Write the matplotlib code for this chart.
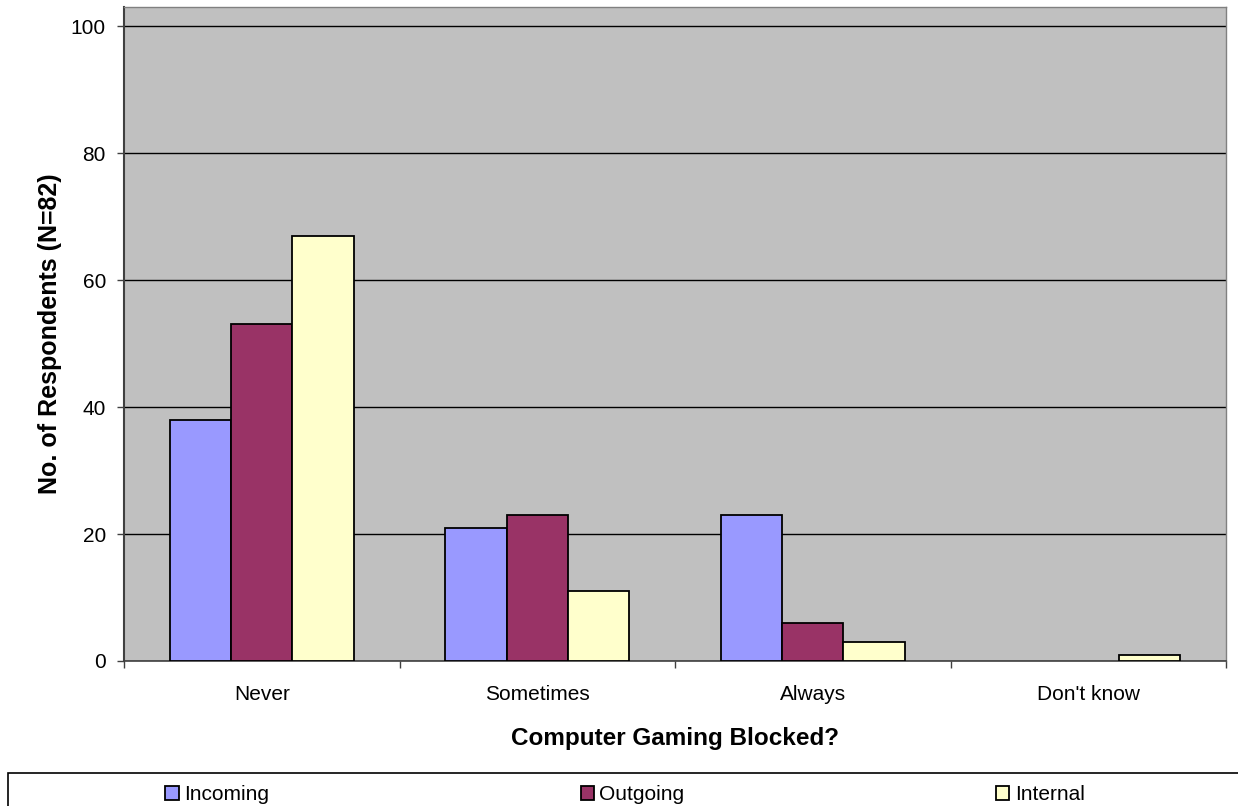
import numpy as np
import matplotlib
matplotlib.use("Agg")
from matplotlib import pyplot as plt
from matplotlib.patches import Rectangle

categories = ["Never", "Sometimes", "Always", "Don't know"]
series_names = ["Incoming", "Outgoing", "Internal"]
incoming = [38, 21, 23, 0]
outgoing = [53, 23, 6, 0]
internal = [67, 11, 3, 1]
colors = ["#9999FF", "#993366", "#FFFFCC"]

plt.rcParams['font.family'] = ['Liberation Sans', 'DejaVu Sans']

fig = plt.figure(figsize=(12.38, 8.06), dpi=100)
ax = fig.add_axes([124/1238, 145/806, 1102/1238, 654/806])
ax.set_facecolor("#C0C0C0")

x = np.arange(len(categories))
w = 0.2225
for i, (vals, name) in enumerate(zip([incoming, outgoing, internal], series_names)):
    # no outline for empty bars
    lws = [1.3 if v > 0 else 0 for v in vals]
    ax.bar(x + (i - 1) * w, vals, w, color=colors[i], edgecolor="black",
           linewidth=lws, label=name, zorder=3)

ax.set_xlim(-0.5, len(categories) - 0.5)
ax.set_ylim(0, 103)
ax.set_yticks(np.arange(0, 101, 20))
ax.yaxis.grid(True, color="black", linewidth=1)
ax.set_axisbelow(True)

# ticks at category boundaries, labels at centers
ax.set_xticks(np.arange(-0.5, len(categories), 1.0))
ax.set_xticklabels([])
ax.set_xticks(x, minor=True)
ax.set_xticklabels(categories, minor=True)
ax.tick_params(axis='x', which='major', length=5, width=1, color="#404040")
ax.tick_params(axis='x', which='minor', length=0, pad=17, labelsize=15)
ax.tick_params(axis='y', length=5, width=1, color="#404040", pad=8, labelsize=15)

for s in ["top", "right"]:
    ax.spines[s].set_color("#808080")
    ax.spines[s].set_linewidth(1)
ax.spines["left"].set_color("#404040")
ax.spines["left"].set_linewidth(1.5)
ax.spines["bottom"].set_color("#404040")
ax.spines["bottom"].set_linewidth(1.2)

ax.set_xlabel("Computer Gaming Blocked?", fontsize=17.5, fontweight="bold", labelpad=17)
ax.set_ylabel("No. of Respondents (N=82)", fontsize=18, fontweight="bold", labelpad=6)

fig.add_artist(Rectangle((8/1238, -0.05), 1.0, 33/806 + 0.05, transform=fig.transFigure,
                         facecolor="none", edgecolor="black", linewidth=1.2))
leg_handles, leg_labels = ax.get_legend_handles_labels()
fig.legend(leg_handles, leg_labels, loc="center", bbox_to_anchor=(625/1238, 11/806), ncol=3,
           frameon=False, fontsize=15, handlelength=0.65, handleheight=0.65,
           handletextpad=0.25, columnspacing=14.95, borderpad=0)

plt.savefig('out.png', dpi=100)
